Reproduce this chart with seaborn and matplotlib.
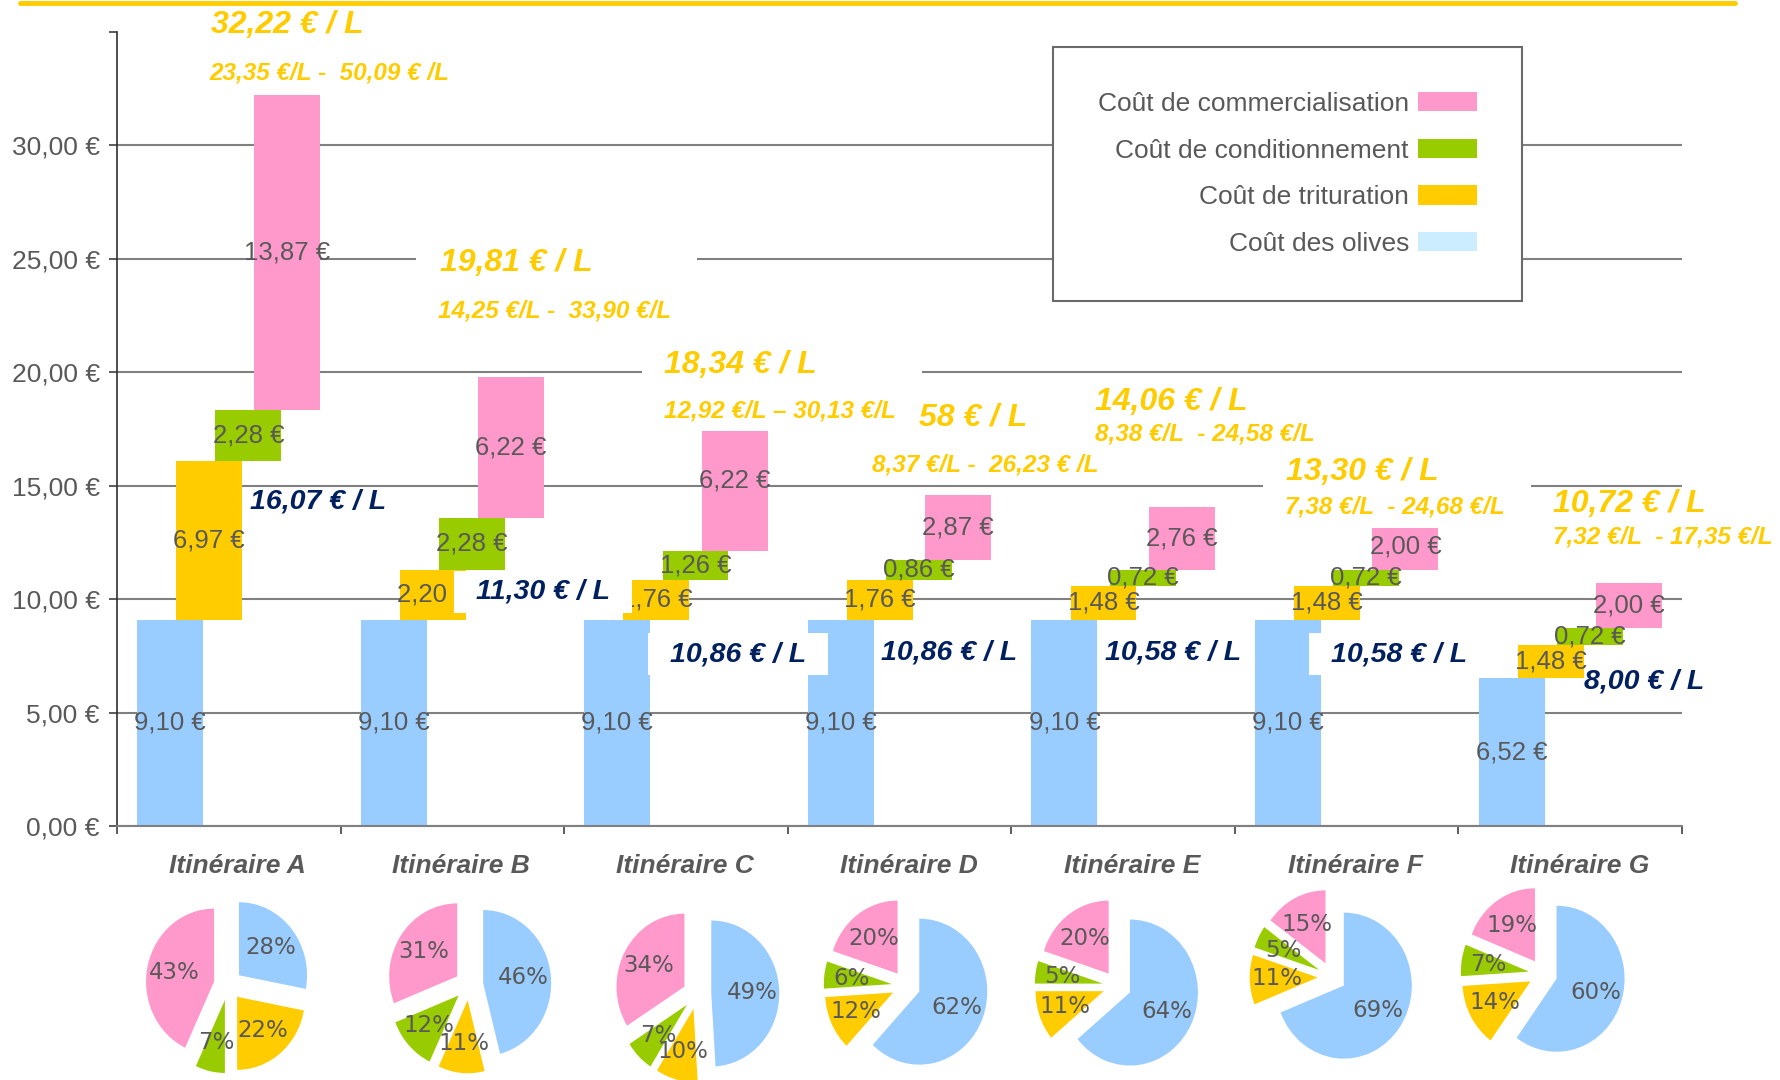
import numpy as np
import matplotlib
matplotlib.use("Agg")
import matplotlib.pyplot as plt
import seaborn as sns
from matplotlib import font_manager
from matplotlib.patches import Patch
from matplotlib.path import Path
from matplotlib.lines import Line2D
from matplotlib.ticker import FuncFormatter
from matplotlib.transforms import ScaledTranslation

# ---- données ----
itineraires = ["Itinéraire A", "Itinéraire B", "Itinéraire C", "Itinéraire D",
               "Itinéraire E", "Itinéraire F", "Itinéraire G"]
cout_olives = [9.10, 9.10, 9.10, 9.10, 9.10, 9.10, 6.52]
cout_trituration = [6.97, 2.20, 1.76, 1.76, 1.48, 1.48, 1.48]
cout_conditionnement = [2.28, 2.28, 1.26, 0.86, 0.72, 0.72, 0.72]
cout_commercialisation = [13.87, 6.22, 6.22, 2.87, 2.76, 2.00, 2.00]

prix_moyen = ["32,22 € / L", "19,81 € / L", "18,34 € / L", "58 € / L",
              "14,06 € / L", "13,30 € / L", "10,72 € / L"]
fourchette = ["23,35 €/L -  50,09 € /L", "14,25 €/L -  33,90 €/L",
              "12,92 €/L – 30,13 €/L", "8,37 €/L -  26,23 € /L",
              "8,38 €/L  - 24,58 €/L", "7,38 €/L  - 24,68 €/L",
              "7,32 €/L  - 17,35 €/L"]
sortie_moulin = ["16,07 € / L", "11,30 € / L", "10,86 € / L", "10,86 € / L",
                 "10,58 € / L", "10,58 € / L", "8,00 € / L"]

part_olives = [28, 46, 49, 62, 64, 69, 60]
part_trituration = [22, 11, 10, 12, 11, 11, 14]
part_conditionnement = [7, 12, 7, 6, 5, 5, 7]
part_commercialisation = [43, 31, 34, 20, 20, 15, 19]

legende = ["Coût de commercialisation", "Coût de conditionnement",
           "Coût de trituration", "Coût des olives"]

# ---- mise en page ----
pos_prix = [(-0.08, 35.3), (0.945, 24.8), (1.946, 20.3), (3.087, 18.0),
            (3.874, 18.7), (4.728, 15.6), (5.922, 14.2)]
pos_fourchette = [(-0.089, 33.2), (0.936, 22.7), (1.946, 18.3), (2.877, 15.9),
                  (3.874, 17.3), (4.724, 14.05), (5.922, 12.75)]
marge_bas_fourchette = [9, 9, 9, 2, 9, 9, 9]
pos_sortie = [(0.095, 14.3), (1.106, 10.32), (1.973, 7.58), (2.917, 7.67),
              (3.919, 7.67), (4.929, 7.58), (6.061, 6.39)]
marge_sortie = [None, 22, 22, 5, 5, 22, None]
centres_camemberts = [(228, 985), (469, 985), (697, 994), (906, 986),
                      (1117, 986), (1332, 977), (1543, 974)]

BLEU, JAUNE, VERT, ROSE = "#99CCFF", "#FFCC00", "#99CC00", "#FF99CC"
BLEU_LEG = "#CCECFF"
MARINE = "#002060"
GRIS = "#595959"

sns.set_theme(style="white")
plt.rcParams["font.family"] = ["Liberation Sans", "DejaVu Sans"]


def has_font(name):
    try:
        font_manager.findfont(font_manager.FontProperties(family=name),
                              fallback_to_default=False)
        return True
    except ValueError:
        return False


if has_font("Liberation Sans Narrow"):
    ETROIT = ["Liberation Sans Narrow", "DejaVu Sans"]
    t_prix, t_fourch, t_sortie = 28, 21, 24
else:
    ETROIT = ["Liberation Sans", "DejaVu Sans"]
    t_prix, t_fourch, t_sortie = 23, 17.5, 20.5


def masque(gauche, droite, bas, haut):
    """boîte blanche rectangulaire, marges en pixels"""
    def style(x0, y0, width, height, mutation_size):
        return Path([(x0 - gauche, y0 - bas), (x0 + width + droite, y0 - bas),
                     (x0 + width + droite, y0 + height + haut),
                     (x0 - gauche, y0 + height + haut), (x0 - gauche, y0 - bas)],
                    closed=True)
    return style


def euros(v):
    return f"{v:.2f} €".replace(".", ",")


W, H = 1781, 1080
fig = plt.figure(figsize=(W / 100, H / 100), dpi=100)
ax = fig.add_axes([117 / W, 1 - 826 / H, (1682 - 117) / W, (826 - 32) / H])
px_par_unite = (826 - 32) / 35

idx = np.arange(len(itineraires))
decalages = [-0.2625, -0.0875, 0.0875, 0.2625]
series = [(cout_olives, BLEU), (cout_trituration, JAUNE),
          (cout_conditionnement, VERT), (cout_commercialisation, ROSE)]

base = np.zeros(len(itineraires))
for (valeurs, couleur), dec in zip(series, decalages):
    valeurs = np.array(valeurs)
    sns.barplot(x=idx + dec, y=valeurs, bottom=base, native_scale=True,
                width=0.295, color=couleur, saturation=1, errorbar=None,
                linewidth=0, ax=ax, zorder=2)
    for xi, b, v in zip(idx + dec, base, valeurs):
        ax.text(xi, b + v / 2, euros(v), ha="center", va="center",
                fontsize=18.5, color=GRIS, zorder=3)
    base = base + valeurs

# étiquettes bleu marine (prix sortie moulin)
for txt, (x, y), m in zip(sortie_moulin, pos_sortie, marge_sortie):
    kw = {}
    if m is not None:
        kw["bbox"] = dict(boxstyle=masque(m, m, 8, 8), fc="white", ec="none")
    ax.text(x, y, txt, ha="left", va="center", fontsize=t_sortie,
            fontweight="bold", fontstyle="italic", family=ETROIT,
            color=MARINE, zorder=4, **kw)

# étiquettes jaunes (prix moyen et fourchette) sur cadre blanc
for sous, (xp, yp), (xf, yf), bas in zip(fourchette, pos_prix,
                                         pos_fourchette, marge_bas_fourchette):
    ecart = (yp - yf) * px_par_unite
    ax.text(xf, yf, sous, ha="left", va="center", fontsize=t_fourch,
            fontweight="bold", fontstyle="italic", family=ETROIT,
            color=(0, 0, 0, 0), zorder=5,
            bbox=dict(boxstyle=masque(22, 26, bas, ecart - 2), fc="white", ec="none"))
for txt, sous, (xp, yp), (xf, yf) in zip(prix_moyen, fourchette,
                                         pos_prix, pos_fourchette):
    ax.text(xf, yf, sous, ha="left", va="center", fontsize=t_fourch,
            fontweight="bold", fontstyle="italic", family=ETROIT,
            color=JAUNE, zorder=6)
    ax.text(xp, yp, txt, ha="left", va="center", fontsize=t_prix,
            fontweight="bold", fontstyle="italic", family=ETROIT,
            color=JAUNE, zorder=6)

ax.set_xlim(-0.5, 6.5)
ax.set_ylim(0, 35)
ax.set_yticks(np.arange(0, 31, 5))
ax.set_yticks([35], minor=True)
ax.yaxis.set_major_formatter(FuncFormatter(lambda v, p: euros(v)))
ax.set_xticks(idx)
ax.set_xticklabels(itineraires, fontweight="bold", fontstyle="italic")
ax.set_xticks(np.arange(-0.5, 7, 1), minor=True)
ax.set_xlabel("")
ax.set_ylabel("")
ax.grid(axis="y", which="major", color="#808080", linewidth=1.5)
ax.set_axisbelow(True)
ax.tick_params(axis="x", which="major", length=0, pad=20, labelsize=19,
               labelcolor=GRIS)
ax.tick_params(axis="x", which="minor", length=5.5, width=1.2,
               color="#404040", direction="out", bottom=True)
ax.tick_params(axis="y", which="both", length=5.5, width=1.2, color="#404040",
               direction="out", left=True, pad=7, labelsize=19, labelcolor=GRIS)
decalage = ScaledTranslation(0.09, 0, fig.dpi_scale_trans)
for lab in ax.get_xticklabels():
    lab.set_transform(lab.get_transform() + decalage)
for cote in ["top", "right"]:
    ax.spines[cote].set_visible(False)
ax.spines["left"].set_color("#303030")
ax.spines["left"].set_linewidth(1.2)
ax.spines["bottom"].set_color("#808080")
ax.spines["bottom"].set_linewidth(1.5)

# légende
poignees = [Patch(facecolor=c, edgecolor="none", label=l)
            for c, l in zip([ROSE, VERT, JAUNE, BLEU_LEG], legende)]
leg = fig.legend(handles=poignees, loc="upper left",
                 bbox_to_anchor=(1053 / W, 1 - 47 / H), markerfirst=False,
                 frameon=True, fancybox=False, edgecolor="#6a6a6a",
                 facecolor="white", framealpha=1, fontsize=19, labelcolor=GRIS,
                 handlelength=2.23, handleheight=0.76, handletextpad=0.34,
                 labelspacing=0.86, borderpad=1.7, borderaxespad=0)
leg.get_frame().set_linewidth(1.5)

# filet doré en haut
fig.add_artist(Line2D([20 / W, 1735 / W], [1 - 3 / H, 1 - 3 / H],
                      color=JAUNE, linewidth=3.5, transform=fig.transFigure))

# camemberts de répartition
rx, ry = 68, 73
for i, (cx, cy) in enumerate(centres_camemberts):
    axp = fig.add_axes([(cx - 1.5 * rx) / W, 1 - (cy + 1.5 * ry) / H,
                        3 * rx / W, 3 * ry / H])
    parts = [part_olives[i], part_trituration[i], part_conditionnement[i],
             part_commercialisation[i]]
    axp.pie(parts, colors=[BLEU, JAUNE, VERT, ROSE], startangle=90,
            counterclock=False, explode=[0.21] * 4,
            autopct=lambda p: f"{p:.0f}%", pctdistance=0.6,
            textprops=dict(color=GRIS, fontsize=16.5, family="DejaVu Sans"),
            wedgeprops=dict(linewidth=0))
    axp.set_aspect("auto")
    axp.set_xlim(-1.5, 1.5)
    axp.set_ylim(-1.5, 1.5)
    axp.axis("off")

fig.savefig("out.png", dpi=100, facecolor="white")
